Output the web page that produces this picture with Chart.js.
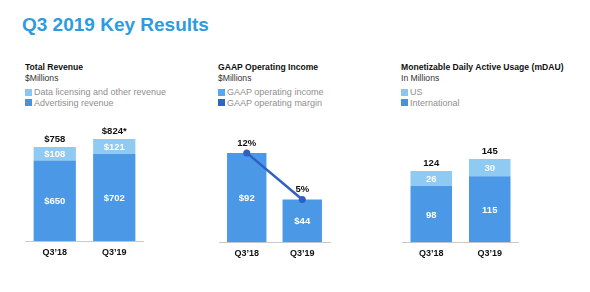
<!DOCTYPE html>
<html>
<head>
<meta charset="utf-8">
<script src="https://cdn.jsdelivr.net/npm/chart.js@4"></script>
<style>
  html, body { margin: 0; padding: 0; background: #fff; }
  body { width: 590px; height: 292px; position: relative; overflow: hidden;
         font-family: "Liberation Sans", Arial, Helvetica, sans-serif; }
  .title { position: absolute; left: 22px; top: 14px; font-size: 19px; line-height: 22px; font-weight: bold; color: #2d9be0; }
  .panel-head { position: absolute; top: 62px; font-size: 8.6px; line-height: 11px; }
  .panel-head .h { font-weight: bold; color: #111; }
  .panel-head .s { color: #333; margin-bottom: 3px; }
  .panel-head .lg { color: #8f8f8f; font-size: 9px; line-height: 10.6px; white-space: nowrap; }
  .panel-head .lg i { display: inline-block; width: 7px; height: 7px; margin-right: 2px; vertical-align: -0.5px; }
  .box { position: absolute; }
</style>
</head>
<body>
<div class="title">Q3 2019 Key Results</div>

<div class="panel-head" style="left:25px">
  <div class="h">Total Revenue</div>
  <div class="s">$Millions</div>
  <div class="lg"><i style="background:#8cc6ee"></i>Data licensing and other revenue</div>
  <div class="lg"><i style="background:#4a90e2"></i>Advertising revenue</div>
</div>
<div class="panel-head" style="left:218px">
  <div class="h">GAAP Operating Income</div>
  <div class="s">$Millions</div>
  <div class="lg"><i style="background:#5aa6ec"></i>GAAP operating income</div>
  <div class="lg"><i style="background:#2e63c8"></i>GAAP operating margin</div>
</div>
<div class="panel-head" style="left:401px">
  <div class="h">Monetizable Daily Active Usage (mDAU)</div>
  <div class="s">In Millions</div>
  <div class="lg"><i style="background:#8cc6ee"></i>US</div>
  <div class="lg"><i style="background:#4a90e2"></i>International</div>
</div>

<div class="box" style="left:25px;top:112px;width:119px;height:152px"><canvas id="revenueChart"></canvas></div>
<div class="box" style="left:215px;top:112px;width:119px;height:153px"><canvas id="incomeChart"></canvas></div>
<div class="box" style="left:402px;top:112px;width:117px;height:153px"><canvas id="dauChart"></canvas></div>

<script>
// ==================== DATA ====================
const quarters = ['Q3\u201918', 'Q3\u201919'];
const advertisingRevenue = [650, 702];
const dataLicensingRevenue = [108, 121];
const revenueTotals = [758, 824];          // reported totals (rounded)
const revenueTotalNotes = ['', '*'];
const operatingIncome = [92, 44];
const operatingMargin = [12, 5];
const internationalDau = [98, 115];
const usDau = [26, 30];
const dauTotals = [124, 145];

// ==================== STYLE ====================
const FONT = '"Liberation Sans", Arial, Helvetica, sans-serif';
const DARK_BAR = '#4a98e6';
const LIGHT_BAR = '#8ecaf2';
const MARGIN_LINE = '#2e5fc4';

// ==================== LABEL PLUGIN ====================
const valueLabels = {
    id: 'valueLabels',
    afterDatasetsDraw(chart, args, opts) {
        const ctx = chart.ctx;
        ctx.save();
        ctx.textAlign = 'center';
        ctx.textBaseline = 'middle';
        ctx.font = `bold 9.5px ${FONT}`;
        const tops = [];
        const xs = [];
        chart.data.datasets.forEach((ds, i) => {
            const meta = chart.getDatasetMeta(i);
            meta.data.forEach((el, j) => {
                const v = ds.data[j];
                if (ds.type === 'line') {
                    ctx.fillStyle = '#111';
                    ctx.fillText(v + '%', el.x, el.y - 10);
                } else {
                    ctx.fillStyle = '#fff';
                    ctx.fillText((opts.prefix || '') + v, el.x, (el.y + el.base) / 2 + 1);
                    tops[j] = Math.min(tops[j] ?? Infinity, el.y);
                    xs[j] = el.x;
                }
            });
        });
        if (opts.totals) {
            ctx.fillStyle = '#111';
            opts.totals.forEach((t, j) => {
                const note = (opts.notes && opts.notes[j]) || '';
                ctx.fillText((opts.prefix || '') + t + note, xs[j], tops[j] - 8);
            });
        }
        ctx.restore();
    }
};

function baseOptions(yMax, labelOpts) {
    return {
        responsive: true,
        maintainAspectRatio: false,
        animation: false,
        layout: { padding: 0 },
        plugins: {
            legend: { display: false },
            tooltip: { enabled: false },
            valueLabels: labelOpts
        },
        scales: {
            x: {
                stacked: true,
                grid: { display: false, drawTicks: false },
                border: { display: true, color: '#c9c9c9', width: 1 },
                ticks: { color: '#111', font: { family: FONT, size: 9, weight: 'bold' }, padding: 6 }
            },
            y: { stacked: true, display: false, min: 0, max: yMax }
        }
    };
}

function barSet(label, data, color) {
    return {
        label, data,
        backgroundColor: color,
        borderWidth: 0,
        barPercentage: 0.71,
        categoryPercentage: 1.0
    };
}

// ==================== CHARTS ====================
new Chart(document.getElementById('revenueChart'), {
    type: 'bar',
    data: {
        labels: quarters,
        datasets: [
            barSet('Advertising revenue', advertisingRevenue, DARK_BAR),
            barSet('Data licensing and other revenue', dataLicensingRevenue, LIGHT_BAR)
        ]
    },
    options: baseOptions(1040, { prefix: '$', totals: revenueTotals, notes: revenueTotalNotes }),
    plugins: [valueLabels]
});

// margin axis range chosen so the margin points sit on the bar tops
const incomeMax = 130;
const m0 = operatingMargin[0], m1 = operatingMargin[1];
const i0 = operatingIncome[0], i1 = operatingIncome[1];
const marginMin = (m0 * i1 - m1 * i0) / (i1 - i0);
const marginMax = marginMin + (m0 - marginMin) * incomeMax / i0;

const incomeOptions = baseOptions(incomeMax, { prefix: '$' });
incomeOptions.scales.y2 = { display: false, min: marginMin, max: marginMax };

new Chart(document.getElementById('incomeChart'), {
    type: 'bar',
    data: {
        labels: quarters,
        datasets: [
            {
                type: 'line',
                label: 'GAAP operating margin',
                data: operatingMargin,
                yAxisID: 'y2',
                borderColor: MARGIN_LINE,
                backgroundColor: MARGIN_LINE,
                borderWidth: 2.5,
                pointRadius: 3.5,
                pointBorderWidth: 0,
                tension: 0
            },
            barSet('GAAP operating income', operatingIncome, DARK_BAR)
        ]
    },
    options: incomeOptions,
    plugins: [valueLabels]
});

new Chart(document.getElementById('dauChart'), {
    type: 'bar',
    data: {
        labels: quarters,
        datasets: [
            barSet('International', internationalDau, DARK_BAR),
            barSet('US', usDau, LIGHT_BAR)
        ]
    },
    options: baseOptions(227, { prefix: '', totals: dauTotals }),
    plugins: [valueLabels]
});
</script>
</body>
</html>
